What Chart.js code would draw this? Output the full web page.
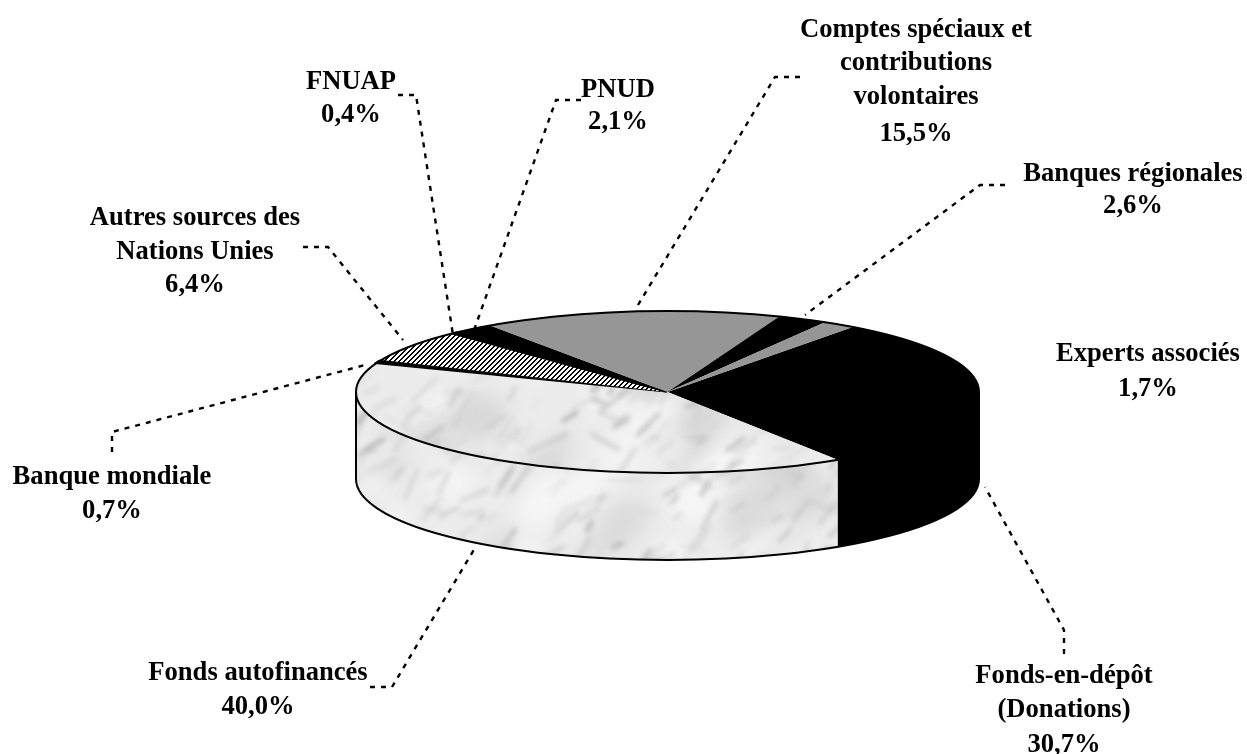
<!DOCTYPE html>
<html><head><meta charset="utf-8">
<style>html,body{margin:0;padding:0;background:#fff}canvas{display:block}</style>
<script src="https://cdn.jsdelivr.net/npm/chart.js@4"></script>
</head><body><div style="width:1247px;height:754px"><canvas id="c" width="1247" height="754"></canvas></div>
<script>
const categories = ["Fonds-en-dépôt (Donations)","Fonds autofinancés","Banque mondiale","Autres sources des Nations Unies","FNUAP","PNUD","Comptes spéciaux et contributions volontaires","Banques régionales","Experts associés"];
const shares = [30.7,40.0,0.7,6.4,0.4,2.1,15.5,2.6,1.7];
const labelLines = [["Fonds-en-dépôt","(Donations)"],["Fonds autofinancés"],["Banque mondiale"],["Autres sources des","Nations Unies"],["FNUAP"],["PNUD"],["Comptes spéciaux et","contributions","volontaires"],["Banques régionales"],["Experts associés"]];
const sliceFills = ["black","marble","black","hatch","black","black","gray","black","gray"];

// Layout of the annotations (label anchor + baselines + leader polyline)
const labelLayout = [
 {cx:1064,ys:[683,717,752],lead:[[1064,654],[1064,630],[985,487]]},
 {cx:258,ys:[680,714],lead:[[370,687],[392,687],[475,548]]},
 {cx:112,ys:[484,518],lead:[[112,452],[112,432],[365,365]]},
 {cx:195,ys:[225,259,292],lead:[[303,247],[328,247],[403,340]]},
 {cx:351,ys:[89,122],lead:[[398,95],[416,95],[453,335]]},
 {cx:618,ys:[97,129],lead:[[581,100],[556,100],[473,333]]},
 {cx:916,ys:[37,70,104,141],lead:[[800,77],[775,77],[635,310]]},
 {cx:1133,ys:[181,213],lead:[[1005,185],[980,185],[805,315]]},
 {cx:1148,ys:[361,396],lead:null}
];
const CX=667.5, CY=392, RX=311.5, RY=81, DEPTH=87, K=RY/RX;

function marbleTile(){
  const w=1000,h=600,c=document.createElement('canvas');c.width=w;c.height=h;
  const x=c.getContext('2d');x.fillStyle='#ececec';x.fillRect(0,0,w,h);
  let s=12345;const r=()=>(s=(s*1103515245+12345)&0x7fffffff)/0x7fffffff;
  x.lineCap='round';
  x.filter='blur(9px)';
  for(let i=0;i<430;i++){
    const g=r()<0.55?250:205;
    x.fillStyle=`rgba(${g},${g},${g},0.55)`;
    x.beginPath();x.ellipse(r()*w,r()*h,12+r()*34,8+r()*18,-0.7,0,7);x.fill();
  }
  x.filter='blur(2.6px)';
  for(let i=0;i<1150;i++){
    const px=r()*w,py=r()*h,len=6+r()*26,a=-0.35-r()*0.8+(r()<0.18?0.9:0);
    const g=140+Math.floor(r()*70);
    x.strokeStyle=`rgba(${g},${g},${g},${0.18+r()*0.4})`;x.lineWidth=1.5+r()*4;
    x.beginPath();x.moveTo(px,py);x.lineTo(px+Math.cos(a)*len,py+Math.sin(a)*len);x.stroke();
  }
  x.filter='none';return c;
}
function hatchTile(){
  const n=5,c=document.createElement('canvas');c.width=n;c.height=n;
  const x=c.getContext('2d');x.fillStyle='#fff';x.fillRect(0,0,n,n);
  x.fillStyle='#000';
  for(let i=0;i<n;i++)for(let j=0;j<n;j++)if((i+j)%n<2)x.fillRect(i,j,1,1);
  return c;
}
const ctx=document.getElementById('c').getContext('2d');
const mTile=marbleTile(), hTile=hatchTile();
function fills(top){
  const m=ctx.createPattern(mTile,'repeat'),h=ctx.createPattern(hTile,'repeat');
  if(top){const t=new DOMMatrix().scale(1,1/K);m.setTransform(t);h.setTransform(t);}
  return {black:'#000',gray:'#969696',marble:m,hatch:h};
}
const topFill=fills(true), wallFill=fills(false);

const solidPie={
  id:'solidPie',
  beforeDatasetsDraw(chart){
    const c=chart.ctx, arcs=chart.getDatasetMeta(0).data, yc=arcs[0].y;
    const norm=a=>{a%=2*Math.PI;return a<0?a+2*Math.PI:a;};
    arcs.forEach((el,i)=>{
      let s=norm(el.startAngle), e=s+(el.endAngle-el.startAngle);
      // the visible wall is the front half of the rim (0..PI), possibly wrapping
      [[s,e],[s-2*Math.PI,e-2*Math.PI]].forEach(([a,b])=>{
        const a2=Math.max(a,0), b2=Math.min(b,Math.PI);
        if(b2<=a2)return;
        c.beginPath();
        c.ellipse(el.x,CY,RX,RY,0,a2,b2);
        c.ellipse(el.x,CY+DEPTH,RX,RY,0,b2,a2,true);
        c.closePath();
        c.fillStyle=wallFill[sliceFills[i]];c.fill();
      });
    });
    // wall outline
    c.save();c.strokeStyle='#000';c.lineWidth=2;
    c.beginPath();c.moveTo(arcs[0].x-RX,CY);c.lineTo(arcs[0].x-RX,CY+DEPTH);
    c.ellipse(arcs[0].x,CY+DEPTH,RX,RY,0,Math.PI,0,true);
    c.lineTo(arcs[0].x+RX,CY);c.stroke();c.restore();
    c.save();
    c.translate(0,CY);c.scale(1,K);c.translate(0,-yc);
  },
  afterDatasetsDraw(chart){
    const c=chart.ctx;c.restore();
    c.save();c.strokeStyle='#000';c.lineWidth=2;c.beginPath();
    c.ellipse(chart.getDatasetMeta(0).data[0].x,CY,RX,RY,0,0,2*Math.PI);c.stroke();c.restore();
  },
  afterDraw(chart){
    const c=chart.ctx;c.save();
    c.fillStyle='#000';c.strokeStyle='#000';c.textAlign='center';c.textBaseline='alphabetic';
    c.font='bold 26.6px "Liberation Serif"';
    labelLayout.forEach((L,i)=>{
      const pct=shares[i].toFixed(1).replace('.',',')+'%';
      [...labelLines[i],pct].forEach((t,j)=>c.fillText(t,L.cx,L.ys[j]));
      if(L.lead){
        c.lineWidth=2.4;c.setLineDash([5,6]);c.beginPath();
        L.lead.forEach((p,j)=>j?c.lineTo(p[0],p[1]):c.moveTo(p[0],p[1]));c.stroke();
      }
    });
    c.restore();
  }
};
new Chart(ctx,{
  type:'pie',
  data:{labels:categories,datasets:[{
    data:shares,
    backgroundColor:sliceFills.map(f=>topFill[f]),
    borderColor:'#000',
    borderWidth:c=>shares[c.dataIndex]<1?5:0,
    hoverOffset:0
  }]},
  options:{
    responsive:false,animation:false,events:[],
    rotation:36.5,radius:RX,
    layout:{padding:{left:88,right:0,top:0,bottom:0}},
    plugins:{legend:{display:false},tooltip:{enabled:false},title:{display:false}}
  },
  plugins:[solidPie]
});
</script></body></html>
